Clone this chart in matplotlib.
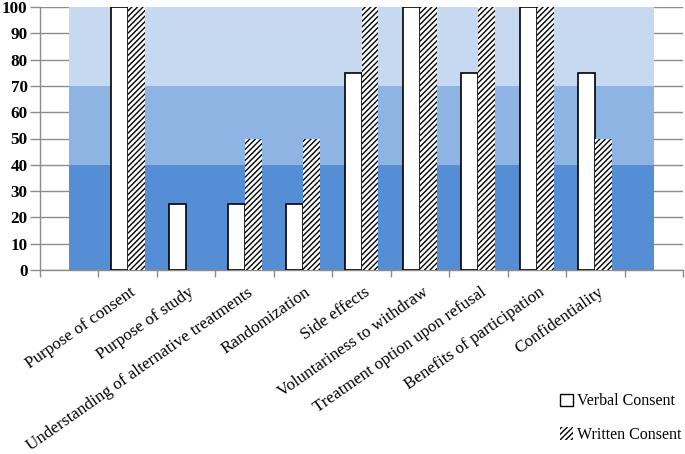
import matplotlib
matplotlib.use("Agg")
import matplotlib.pyplot as plt
import numpy as np
from matplotlib.patches import Patch

categories = ["Purpose of consent", "Purpose of study",
              "Understanding of alternative treatments", "Randomization",
              "Side effects", "Voluntariness to withdraw",
              "Treatment option upon refusal", "Benefits of participation",
              "Confidentiality"]
verbal = [100, 25, 25, 25, 75, 100, 75, 100, 75]
written = [100, 0, 50, 50, 100, 100, 100, 100, 50]
band_bounds = [0, 40, 70, 100]
band_colors = ["#558ED5", "#8EB4E3", "#C6D9F1"]
yticks = list(range(0, 101, 10))

plt.rcParams['font.family'] = ['Liberation Serif', 'DejaVu Serif']
plt.rcParams['hatch.linewidth'] = 1.0

fig = plt.figure(figsize=(6.85, 4.54), dpi=100)
ax = fig.add_axes([40/685, 1-270/454, 643/685, 263/454])

n = len(categories)
pos = np.arange(1, n + 1)
for lo, hi, c in zip(band_bounds[:-1], band_bounds[1:], band_colors):
    ax.fill_between([0, n + 1], lo, hi, color=c, lw=0, zorder=1)

w = 0.29
ax.bar(pos - w/2, verbal, w, color="white", edgecolor="black", lw=1.2, zorder=3,
       label="Verbal Consent")
ax.bar(pos + w/2, written, w, color="white", edgecolor="black", lw=0, hatch="//////",
       zorder=3, label="Written Consent")

ax.set_xlim(-0.5, n + 1.5)
ax.set_ylim(0, 100)
ax.set_yticks(yticks)
ax.set_yticklabels([str(t) for t in yticks], fontsize=12.3, fontweight='bold')
for t in yticks:
    ax.axhline(t, color="#8c8c8c", lw=1, zorder=0.5)

ax.set_xticks(np.arange(-0.5, n + 2, 1))
ax.set_xticklabels([])
ax.tick_params(axis='x', length=5, color="#8c8c8c", width=1)
ax.tick_params(axis='y', length=7, color="#8c8c8c", width=1, pad=2)
for s in ["top", "right"]:
    ax.spines[s].set_visible(False)
for s in ["left", "bottom"]:
    ax.spines[s].set_color("#8c8c8c")
    ax.spines[s].set_linewidth(1)

for p, lab in zip(pos, categories):
    ax.text(p + 0.03, -5.5, lab, rotation=35, rotation_mode='anchor', ha='right', va='top',
            fontsize=12.3, transform=ax.transData, clip_on=False)

handles = [Patch(facecolor="white", edgecolor="black", lw=1),
           Patch(facecolor="white", edgecolor="black", lw=0, hatch="//////")]
fig.legend(handles, ["Verbal Consent", "Written Consent"], loc='upper left',
           bbox_to_anchor=(546/685, 1-379/454), frameon=False, fontsize=11.5,
           handlelength=0.8, handleheight=0.8, handletextpad=0.25, labelspacing=1.1)

fig.savefig("out.png", dpi=100)
